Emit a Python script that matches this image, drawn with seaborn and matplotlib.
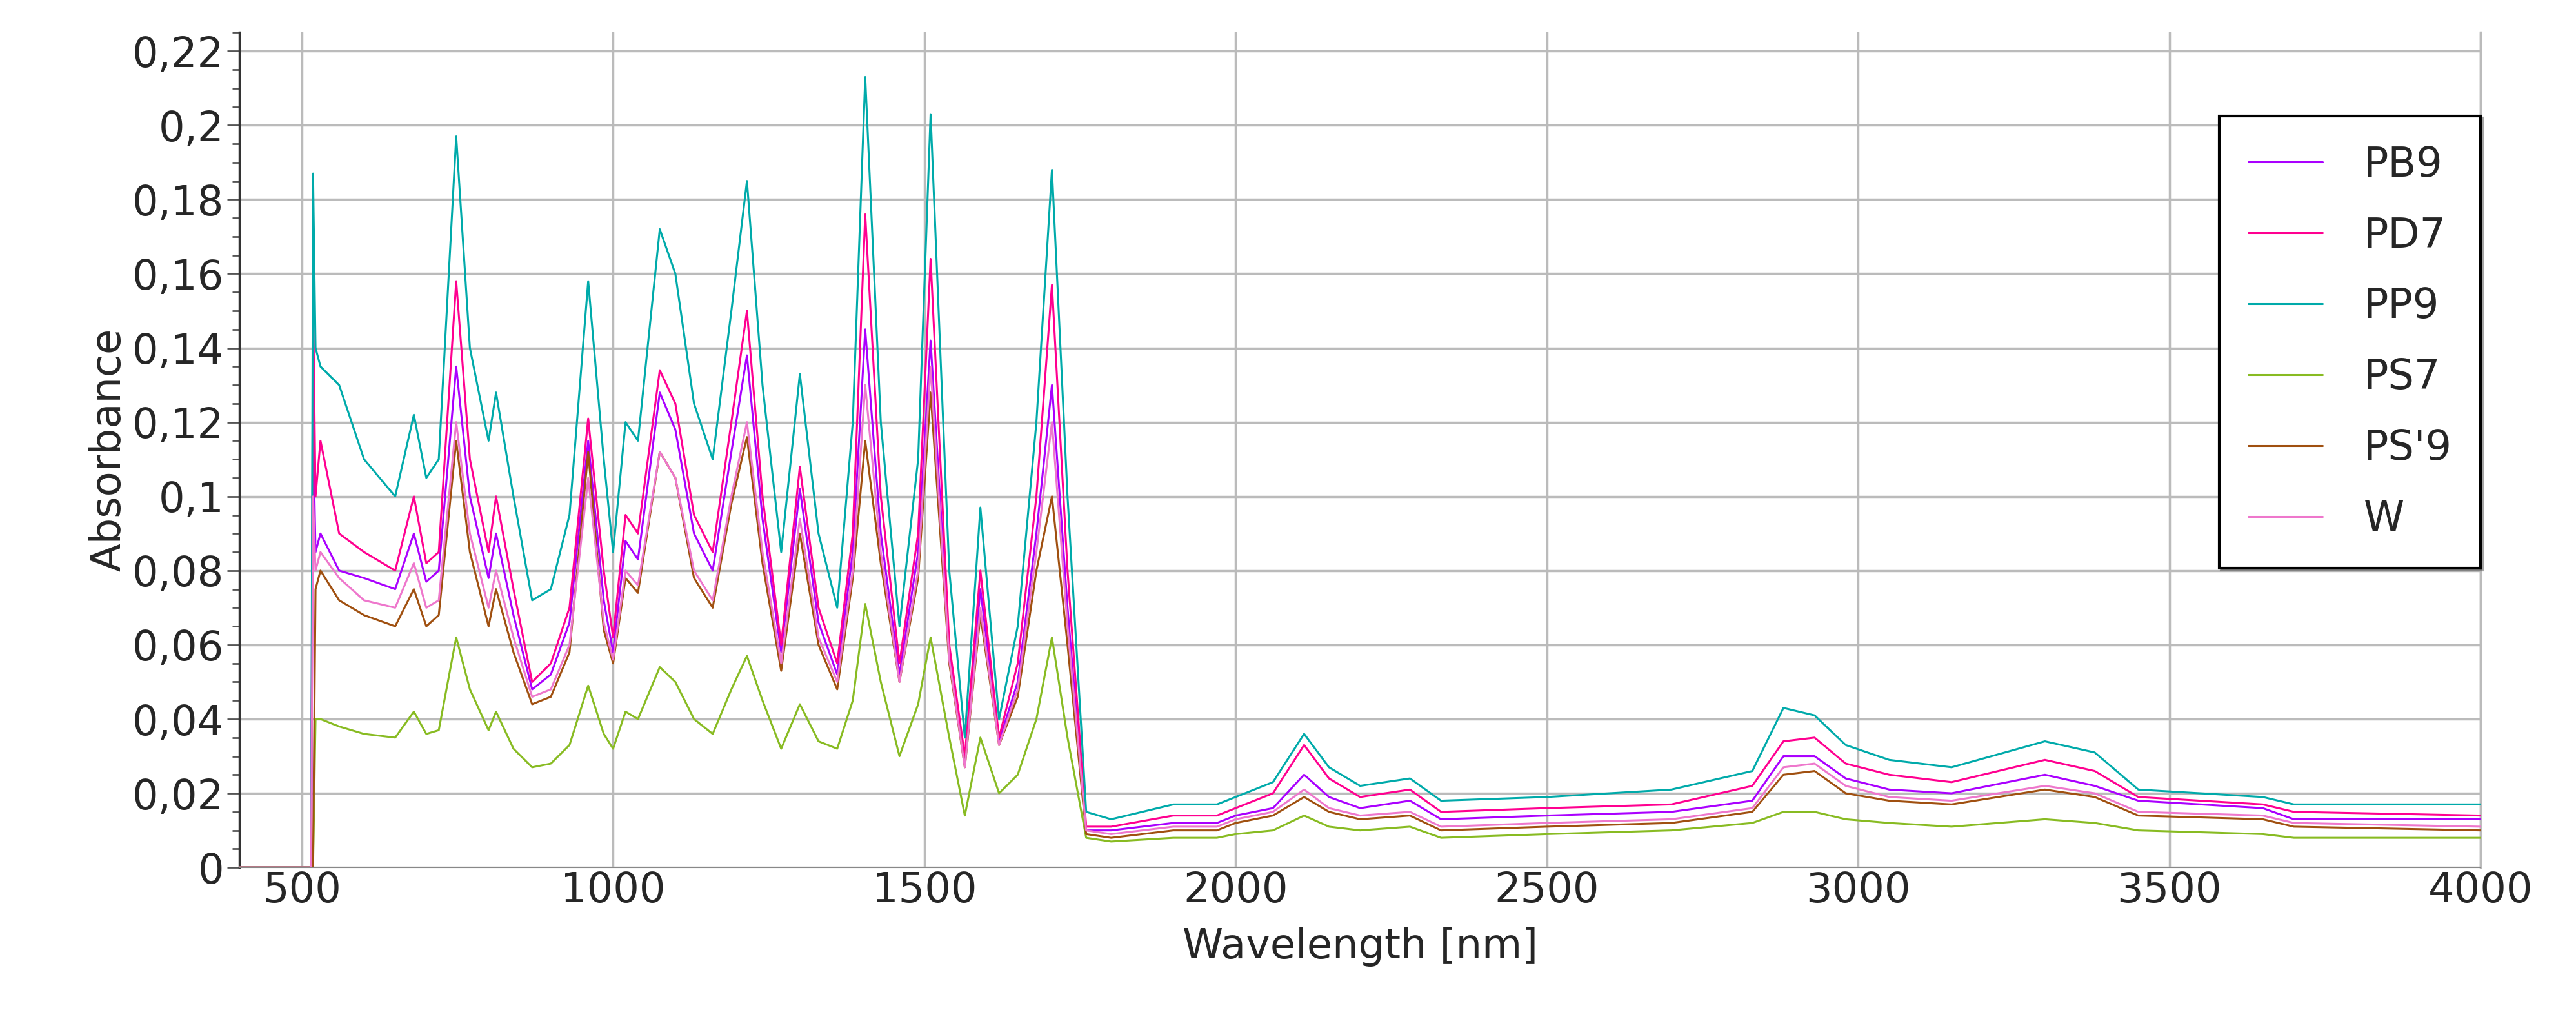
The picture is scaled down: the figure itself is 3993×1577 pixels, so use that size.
import numpy as np
import pandas as pd
import matplotlib
matplotlib.use('Agg')
import matplotlib.pyplot as plt
import seaborn as sns
from matplotlib.ticker import MultipleLocator, FuncFormatter

# wavelength grid [nm]
wl = [400, 515, 518, 522, 530, 560, 600, 650, 680, 700, 720, 748, 770, 800, 812, 840, 870, 900, 930, 960,
      985, 1000, 1020, 1040, 1075, 1100, 1130, 1160, 1190, 1215, 1240, 1270, 1300, 1330, 1360, 1385, 1405,
      1430, 1460, 1490, 1510, 1540, 1565, 1590, 1620, 1650, 1680, 1705, 1730, 1760, 1800, 1900, 1970, 2000,
      2060, 2110, 2150, 2200, 2280, 2330, 2500, 2700, 2830, 2880, 2930, 2980, 3050, 3150, 3300, 3380, 3450,
      3650, 3700, 4000]

pb9 = [0, 0, 0.12, 0.085, 0.09, 0.08, 0.078, 0.075, 0.09, 0.077, 0.08, 0.135, 0.1, 0.078, 0.09, 0.068, 0.048,
       0.052, 0.066, 0.115, 0.072, 0.058, 0.088, 0.083, 0.128, 0.118, 0.09, 0.08, 0.112, 0.138, 0.094, 0.058,
       0.102, 0.066, 0.052, 0.085, 0.145, 0.09, 0.052, 0.085, 0.142, 0.058, 0.028, 0.075, 0.034, 0.05, 0.09,
       0.13, 0.07, 0.01, 0.01, 0.012, 0.012, 0.014, 0.016, 0.025, 0.019, 0.016, 0.018, 0.013, 0.014, 0.015,
       0.018, 0.03, 0.03, 0.024, 0.021, 0.02, 0.025, 0.022, 0.018, 0.016, 0.013, 0.013]
pd7 = [0, 0, 0.155, 0.10, 0.115, 0.09, 0.085, 0.08, 0.10, 0.082, 0.085, 0.158, 0.11, 0.085, 0.10, 0.075, 0.05,
       0.055, 0.07, 0.121, 0.08, 0.062, 0.095, 0.09, 0.134, 0.125, 0.095, 0.085, 0.12, 0.15, 0.10, 0.06, 0.108,
       0.07, 0.055, 0.09, 0.176, 0.10, 0.055, 0.09, 0.164, 0.06, 0.03, 0.08, 0.035, 0.055, 0.10, 0.157, 0.08,
       0.011, 0.011, 0.014, 0.014, 0.016, 0.02, 0.033, 0.024, 0.019, 0.021, 0.015, 0.016, 0.017, 0.022, 0.034,
       0.035, 0.028, 0.025, 0.023, 0.029, 0.026, 0.019, 0.017, 0.015, 0.014]
pp9 = [0, 0, 0.187, 0.14, 0.135, 0.13, 0.11, 0.10, 0.122, 0.105, 0.11, 0.197, 0.14, 0.115, 0.128, 0.10, 0.072,
       0.075, 0.095, 0.158, 0.11, 0.085, 0.12, 0.115, 0.172, 0.16, 0.125, 0.11, 0.15, 0.185, 0.13, 0.085, 0.133,
       0.09, 0.07, 0.12, 0.213, 0.12, 0.065, 0.11, 0.203, 0.08, 0.035, 0.097, 0.04, 0.065, 0.12, 0.188, 0.10,
       0.015, 0.013, 0.017, 0.017, 0.019, 0.023, 0.036, 0.027, 0.022, 0.024, 0.018, 0.019, 0.021, 0.026, 0.043,
       0.041, 0.033, 0.029, 0.027, 0.034, 0.031, 0.021, 0.019, 0.017, 0.017]
ps7 = [0, 0, 0, 0.04, 0.04, 0.038, 0.036, 0.035, 0.042, 0.036, 0.037, 0.062, 0.048, 0.037, 0.042, 0.032, 0.027,
       0.028, 0.033, 0.049, 0.036, 0.032, 0.042, 0.04, 0.054, 0.05, 0.04, 0.036, 0.048, 0.057, 0.045, 0.032,
       0.044, 0.034, 0.032, 0.045, 0.071, 0.05, 0.03, 0.044, 0.062, 0.035, 0.014, 0.035, 0.02, 0.025, 0.04,
       0.062, 0.035, 0.008, 0.007, 0.008, 0.008, 0.009, 0.01, 0.014, 0.011, 0.01, 0.011, 0.008, 0.009, 0.01,
       0.012, 0.015, 0.015, 0.013, 0.012, 0.011, 0.013, 0.012, 0.01, 0.009, 0.008, 0.008]
ps9 = [0, 0, 0, 0.075, 0.08, 0.072, 0.068, 0.065, 0.075, 0.065, 0.068, 0.115, 0.085, 0.065, 0.075, 0.058, 0.044,
       0.046, 0.058, 0.112, 0.064, 0.055, 0.078, 0.074, 0.112, 0.105, 0.078, 0.07, 0.098, 0.116, 0.082, 0.053,
       0.09, 0.06, 0.048, 0.078, 0.115, 0.082, 0.05, 0.078, 0.128, 0.055, 0.027, 0.068, 0.033, 0.046, 0.08,
       0.10, 0.06, 0.009, 0.008, 0.01, 0.01, 0.012, 0.014, 0.019, 0.015, 0.013, 0.014, 0.01, 0.011, 0.012,
       0.015, 0.025, 0.026, 0.02, 0.018, 0.017, 0.021, 0.019, 0.014, 0.013, 0.011, 0.010]
w = [0, 0, 0.10, 0.08, 0.085, 0.078, 0.072, 0.07, 0.082, 0.07, 0.072, 0.12, 0.09, 0.07, 0.08, 0.062, 0.046,
     0.048, 0.06, 0.105, 0.066, 0.056, 0.08, 0.076, 0.112, 0.105, 0.08, 0.072, 0.1, 0.12, 0.085, 0.055, 0.094,
     0.062, 0.05, 0.08, 0.13, 0.085, 0.05, 0.08, 0.135, 0.056, 0.027, 0.07, 0.033, 0.048, 0.085, 0.12, 0.065,
     0.01, 0.009, 0.011, 0.011, 0.013, 0.015, 0.021, 0.016, 0.014, 0.015, 0.011, 0.012, 0.013, 0.016, 0.027,
     0.028, 0.022, 0.019, 0.018, 0.022, 0.02, 0.015, 0.014, 0.012, 0.011]

names = ['PB9', 'PD7', 'PP9', 'PS7', "PS'9", 'W']
colors = ['#aa00ff', '#ff0090', '#00aaaa', '#88bb22', '#a05010', '#ee77cc']

frames = []
for name, vals in zip(names, [pb9, pd7, pp9, ps7, ps9, w]):
    frames.append(pd.DataFrame({'wl': wl, 'abs': vals, 'sample': name}))
df = pd.concat(frames)

sns.set_style('white')
plt.rcParams['font.family'] = ['DejaVu Sans']

fig = plt.figure(figsize=(39.93, 15.77), dpi=100)
ax = fig.add_axes([0.093, 0.147, 0.870, 0.821])

sns.lineplot(data=df, x='wl', y='abs', hue='sample', palette=colors, linewidth=2.2, ax=ax,
             estimator=None, sort=False, zorder=3)

ax.set_xlim(400, 4000)
ax.set_ylim(0, 0.225)
ax.xaxis.set_major_locator(MultipleLocator(500))
ax.yaxis.set_major_locator(MultipleLocator(0.02))
ax.yaxis.set_minor_locator(MultipleLocator(0.005))
ax.xaxis.set_major_formatter(FuncFormatter(lambda v, p: '%d' % v))
ax.yaxis.set_major_formatter(FuncFormatter(lambda v, p: ('%g' % round(v, 3)).replace('.', ',')))
ax.grid(True, which='major', color='#bbbbbb', linewidth=2.5)
ax.tick_params(axis='both', labelsize=46, length=0)
ax.tick_params(axis='y', which='both', left=True, length=8, width=2, color='#555555')
ax.tick_params(axis='y', which='major', length=14)
ax.spines['top'].set_visible(False)
ax.spines['left'].set_color('#333333')
ax.spines['left'].set_linewidth(2.5)
ax.spines['bottom'].set_color('#888888')
ax.spines['right'].set_color('#bbbbbb')
ax.spines['right'].set_linewidth(2.5)

ax.set_xlabel('Wavelength [nm]', fontsize=46, labelpad=18)
ax.set_ylabel('Absorbance', fontsize=46)

leg = ax.legend(loc='upper right', bbox_to_anchor=(1.0, 0.9), fontsize=46, frameon=True, fancybox=False,
                shadow=True, edgecolor='black', handlelength=1.8, handletextpad=1.0, borderpad=0.7,
                labelspacing=0.75, borderaxespad=0)
leg.get_frame().set_linewidth(3)
leg.set_title(None)

fig.savefig('out.png', dpi=100, facecolor='white')
